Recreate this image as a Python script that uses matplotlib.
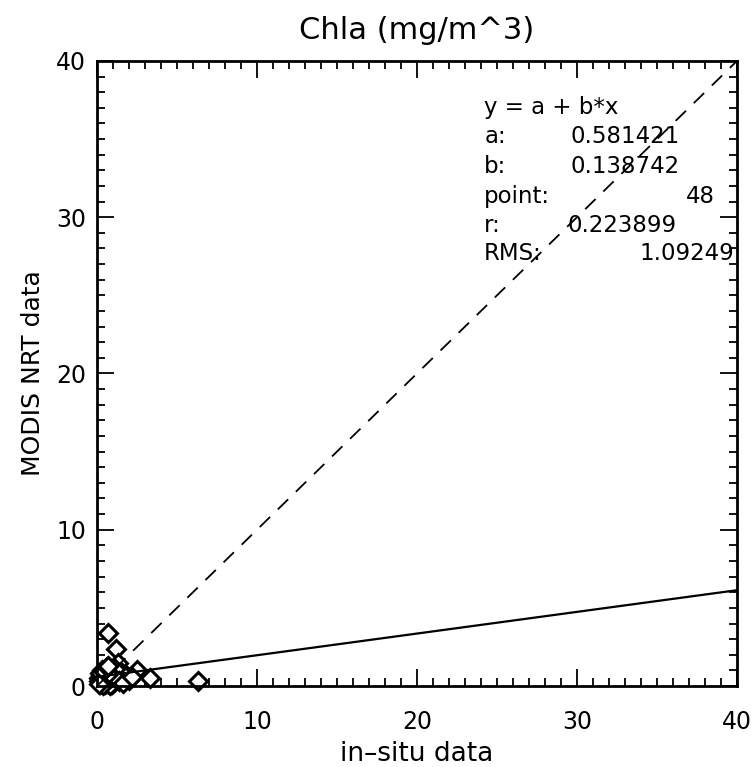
import matplotlib
matplotlib.use("Agg")
import matplotlib.pyplot as plt
import numpy as np
from matplotlib.ticker import MultipleLocator

plt.rcParams["font.family"] = ["DejaVu Sans"]

# in-situ vs MODIS NRT chlorophyll (48 match-ups)
insitu = [0.7, 1.2, 1.3, 2.5, 3.3, 6.3, 2.0, 1.8, 1.5, 1.1,
          0.2, 0.3, 0.4, 0.5, 0.6, 0.8, 0.9, 1.0, 0.15, 0.25,
          0.35, 0.45, 0.55, 0.65, 0.75, 0.85, 0.95, 1.05, 0.1, 0.2,
          0.3, 0.4, 0.5, 0.6, 0.7, 0.8, 0.9, 0.3, 0.5, 0.2,
          0.4, 0.6, 1.4, 1.6, 2.2, 0.35, 0.15, 0.7]
modis = [3.4, 2.4, 1.5, 1.0, 0.5, 0.3, 0.4, 0.7, 0.9, 1.1,
         0.1, 0.2, 0.3, 0.15, 0.4, 0.5, 0.3, 0.6, 0.5, 0.7,
         0.8, 0.6, 0.9, 0.2, 0.1, 0.35, 0.15, 0.25, 0.3, 0.45,
         0.55, 0.1, 0.65, 0.75, 0.9, 0.05, 0.6, 1.0, 1.1, 0.85,
         0.95, 1.2, 0.3, 0.2, 0.6, 0.05, 0.15, 1.3]

fit_a = 0.581421
fit_b = 0.138742
n_points = 48
fit_r = 0.223899
fit_rms = 1.09249

fig = plt.figure(figsize=(7.54, 7.67), dpi=100)
ax = fig.add_axes([0.1286, 0.1056, 0.8488, 0.8149])

ax.plot(insitu, modis, linestyle="none", marker="D", markersize=9,
        markerfacecolor="white", markeredgecolor="black", markeredgewidth=2.2,
        clip_on=False)

xx = np.array([0, 40])
ax.plot(xx, xx, color="black", lw=1.3, dashes=(8, 6))
ax.plot(xx, fit_a + fit_b * xx, color="black", lw=1.6)

ax.set_xlim(0, 40)
ax.set_ylim(0, 40)
ax.xaxis.set_major_locator(MultipleLocator(10))
ax.yaxis.set_major_locator(MultipleLocator(10))
ax.xaxis.set_minor_locator(MultipleLocator(1))
ax.yaxis.set_minor_locator(MultipleLocator(1))
ax.tick_params(which="both", direction="in", top=True, right=True, width=1.3)
ax.tick_params(which="major", length=12, labelsize=17)
ax.tick_params(axis="x", which="major", pad=17)
ax.tick_params(axis="y", which="major", pad=8)
ax.tick_params(which="minor", length=6)
for s in ax.spines.values():
    s.set_linewidth(2)

ax.set_title("Chla (mg/m^3)", fontsize=22, pad=16)
ax.set_xlabel("in\u2013situ data", fontsize=19, labelpad=5)
ax.set_ylabel("MODIS NRT data", fontsize=18, labelpad=8)

# fit statistics block
fs = 16.5
lx = 24.2
ys = [37.0, 35.15, 33.25, 31.3, 29.45, 27.65]
ax.text(lx, ys[0], "y = a + b*x", fontsize=fs, va="center")
ax.text(lx, ys[1], "a:", fontsize=fs, va="center")
ax.text(29.6, ys[1], f"{fit_a:.6f}", fontsize=fs, va="center")
ax.text(lx, ys[2], "b:", fontsize=fs, va="center")
ax.text(29.6, ys[2], f"{fit_b:.6f}", fontsize=fs, va="center")
ax.text(lx, ys[3], "point:", fontsize=fs, va="center")
ax.text(38.6, ys[3], f"{n_points}", fontsize=fs, va="center", ha="right")
ax.text(lx, ys[4], "r:", fontsize=fs, va="center")
ax.text(29.4, ys[4], f"{fit_r:.6f}", fontsize=fs, va="center")
ax.text(lx, ys[5], "RMS:", fontsize=fs, va="center")
ax.text(39.8, ys[5], f"{fit_rms:.5f}", fontsize=fs, va="center", ha="right")

fig.savefig("out.png", dpi=100)
